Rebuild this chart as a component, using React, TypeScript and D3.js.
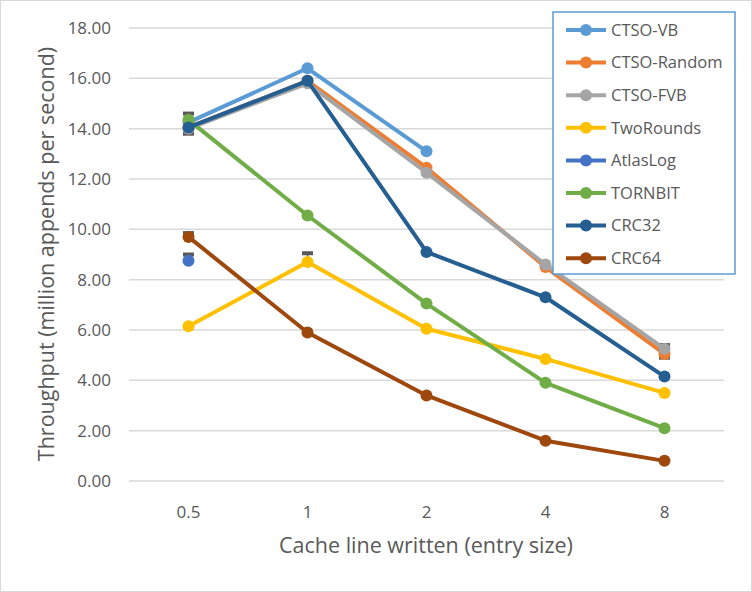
import React from 'react';
import * as d3 from 'd3';

const categories = ['0.5', '1', '2', '4', '8'];
const yTicks = [0, 2, 4, 6, 8, 10, 12, 14, 16, 18];

const seriesNames = ['CTSO-VB', 'CTSO-Random', 'CTSO-FVB', 'TwoRounds', 'AtlasLog', 'TORNBIT', 'CRC32', 'CRC64'];
const seriesColors = ['#5B9BD5', '#ED7D31', '#A5A5A5', '#FFC000', '#4472C4', '#70AD47', '#255E91', '#9E480E'];

// null = no point
const ctsoVB = [14.25, 16.4, 13.1, null, null];
const ctsoRandom = [14.05, 15.9, 12.45, 8.5, 5.05];
const ctsoFVB = [14.0, 15.8, 12.25, 8.6, 5.25];
const twoRounds = [6.15, 8.7, 6.05, 4.85, 3.5];
const atlasLog = [8.75, null, null, null, null];
const tornbit = [14.35, 10.55, 7.05, 3.9, 2.1];
const crc32 = [14.05, 15.9, 9.1, 7.3, 4.15];
const crc64 = [9.7, 5.9, 3.4, 1.6, 0.8];

// error bars, one-sided: + is drawn up, - is drawn down
const errVB = [0, 0, 0, 0, 0];
const errRandom = [-0.25, 0, 0, 0, -0.15];
const errFVB = [0, 0, 0, 0, 0.15];
const errTwoRounds = [0, 0.35, 0, 0, 0];
const errAtlasLog = [0.25, 0, 0, 0, 0];
const errTornbit = [0.25, 0, 0, 0, 0];
const errCrc32 = [0, 0, 0, 0, 0];
const errCrc64 = [0.15, 0, 0, 0, 0];

const seriesValues = [ctsoVB, ctsoRandom, ctsoFVB, twoRounds, atlasLog, tornbit, crc32, crc64];
const seriesErrors = [errVB, errRandom, errFVB, errTwoRounds, errAtlasLog, errTornbit, errCrc32, errCrc64];

const W = 752;
const H = 592;
const FONT = '"Open Sans", sans-serif';
const TXT = '#595959';

export default function App() {
  const x = d3.scalePoint<string>().domain(categories).range([129, 724]).padding(0.5);
  const y = d3.scaleLinear().domain([0, 18]).range([481, 28]);

  const line = d3
    .line<number | null>()
    .defined((d) => d !== null)
    .x((_, i) => x(categories[i]) as number)
    .y((d) => y(d as number));

  return (
    <svg width={W} height={H} style={{ position: 'absolute', left: 0, top: 0, fontFamily: FONT }}>
      <rect x={0.5} y={0.5} width={W - 1} height={H - 1} fill="#fff" stroke="#d9d9d9" />

      {/* grid */}
      {yTicks.map((t) => (
        <line key={t} x1={129} x2={724} y1={y(t)} y2={y(t)} stroke="#d9d9d9" strokeWidth={1.5} />
      ))}
      {yTicks.map((t) => (
        <text key={'l' + t} x={111} y={y(t)} dy="0.35em" textAnchor="end" fontSize={17} fill={TXT}>
          {t.toFixed(2)}
        </text>
      ))}
      {categories.map((c) => (
        <text key={c} x={x(c)} y={518} textAnchor="middle" fontSize={17} fill={TXT}>
          {c}
        </text>
      ))}
      <text x={426} y={553} textAnchor="middle" fontSize={21.5} fill={TXT}>
        Cache line written (entry size)
      </text>
      <text transform={`translate(54,254) rotate(-90)`} textAnchor="middle" fontSize={21.5} fill={TXT}>
        Throughput (million appends per second)
      </text>

      {/* error bars */}
      {seriesValues.map((vals, si) =>
        vals.map((v, i) => {
          const e = seriesErrors[si][i];
          if (v === null || !e) return null;
          const cx = x(categories[i]) as number;
          return (
            <g key={`e${si}-${i}`} stroke="#595959">
              <line x1={cx} x2={cx} y1={y(v)} y2={y(v + e)} strokeWidth={1.5} />
              <line x1={cx - 5.5} x2={cx + 5.5} y1={y(v + e)} y2={y(v + e)} strokeWidth={4} />
            </g>
          );
        })
      )}

      {/* series */}
      {seriesValues.map((vals, si) => (
        <g key={seriesNames[si]}>
          <path d={line(vals) || ''} fill="none" stroke={seriesColors[si]} strokeWidth={4} strokeLinejoin="round" />
          {vals.map((v, i) =>
            v === null ? null : (
              <circle key={i} cx={x(categories[i])} cy={y(v)} r={6} fill={seriesColors[si]} />
            )
          )}
        </g>
      ))}

      {/* legend */}
      <rect x={553} y={12} width={182} height={262} fill="#fff" stroke="#5B9BD5" strokeWidth={1.5} />
      {seriesNames.map((name, i) => {
        const ly = 30 + i * 32.6;
        return (
          <g key={'lg' + name}>
            <line x1={566} x2={606} y1={ly} y2={ly} stroke={seriesColors[i]} strokeWidth={4} />
            <circle cx={586} cy={ly} r={6} fill={seriesColors[i]} />
            <text x={611} y={ly} dy="0.35em" fontSize={16.5} fill={TXT}>
              {name}
            </text>
          </g>
        );
      })}
    </svg>
  );
}
